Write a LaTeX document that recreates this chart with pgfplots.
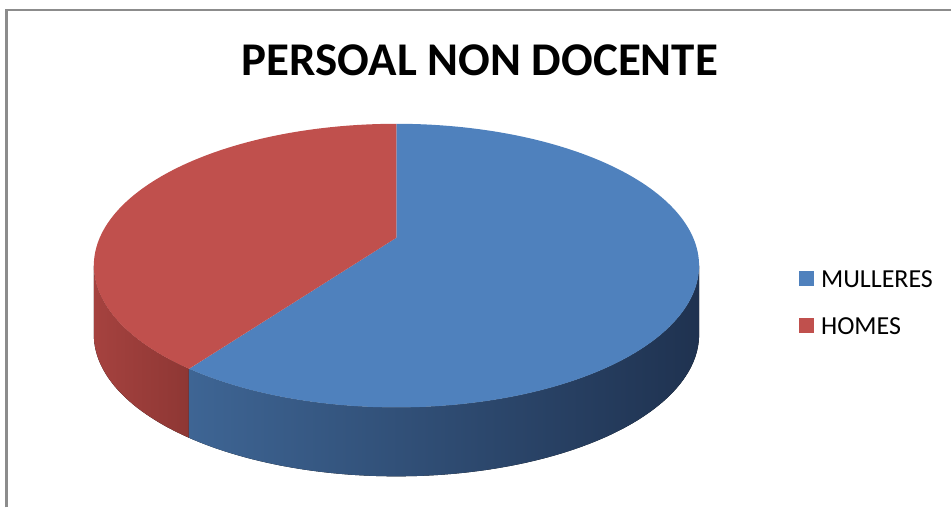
\documentclass[border=0pt]{standalone}
\usepackage{pgfplots}
\pgfplotsset{compat=1.18}
\usepgfplotslibrary{fillbetween}
\usepackage{fontspec}
\setmainfont{Carlito}
\definecolor{bTop}{HTML}{4F81BD}
\definecolor{rTop}{HTML}{C0504D}
\definecolor{bSideL}{HTML}{3E6594}
\definecolor{bSideR}{HTML}{1F3250}
\definecolor{rSideL}{HTML}{A5423F}
\definecolor{rSideR}{HTML}{8E3734}
\definecolor{frameg}{HTML}{8C8C8C}
\def\vM{60}% MULLERES
\def\vH{40}% HOMES
\begin{document}
\begin{tikzpicture}
\pgfmathsetmacro\angM{\vM/(\vM+\vH)*360}
\pgfmathsetmacro\bS{90-\angM}
\pgfmathsetmacro\rE{90+\vH/(\vM+\vH)*360}
\pgfmathsetmacro\sL{180+asin(0.197)}
\pgfmathsetmacro\sR{360-asin(0.197)}
\begin{axis}[
  scale only axis, width=476pt, height=254pt,
  xmin=0, xmax=952, ymin=0, ymax=508, y dir=reverse,
  hide axis, clip=false,
  declare function={ex(\t)=397+297.1*cos(\t)/(1+0.197*sin(\t)); ey(\t)=238-136.5*sin(\t)/(1+0.197*sin(\t));},
  legend style={draw=none, fill=none, at={(axis cs:800,271)}, anchor=north west,
    inner sep=0pt, row sep=15.2pt, font=\fontsize{13}{15}\selectfont,
    nodes={inner sep=0pt, text height=8pt, text depth=0pt},
    /tikz/every odd column/.append style={column sep=3.4pt}},
  legend image code/.code={\fill[#1] (0pt,-3.1pt) rectangle (7.5pt,4.4pt);},
  legend cell align=left,
]
\path (rel axis cs:0,0) rectangle (rel axis cs:1,1);
% red side
\addplot[name path=rU, draw=none, domain=\sL:\rE, samples=60, forget plot] ({ex(x)},{ey(x)});
\addplot[name path=rL, draw=none, domain=\sL:\rE, samples=60, forget plot] ({ex(x)},{ey(x)+69});
\addplot[left color=rSideL, right color=rSideR, draw=none, forget plot] fill between[of=rU and rL];
% blue side
\addplot[name path=bU, draw=none, domain=\rE:\sR, samples=120, forget plot] ({ex(x)},{ey(x)});
\addplot[name path=bL, draw=none, domain=\rE:\sR, samples=120, forget plot] ({ex(x)},{ey(x)+69});
\addplot[left color=bSideL, right color=bSideR, draw=none, forget plot] fill between[of=bU and bL];
% tops
\addplot[fill=bTop, draw=none, samples at={-1,0,1,...,160}]
  ({x<0 ? 397 : ex(\bS+(90-\bS)*x/160)}, {x<0 ? 238 : ey(\bS+(90-\bS)*x/160)});
\addlegendentry{MULLERES}
\addplot[fill=rTop, draw=none, samples at={-1,0,1,...,120}]
  ({x<0 ? 397 : ex(90+(\rE-90)*x/120)}, {x<0 ? 238 : ey(90+(\rE-90)*x/120)});
\addlegendentry{HOMES}
% frame and title
\draw[frameg, line width=1.3pt] (axis cs:6.5,508) -- (axis cs:6.5,10) -- (axis cs:952,10);
\node[font=\fontsize{23.5}{28}\selectfont\bfseries, anchor=base] at (axis cs:480.5,76) {PERSOAL NON DOCENTE};
\end{axis}
\end{tikzpicture}
\end{document}
